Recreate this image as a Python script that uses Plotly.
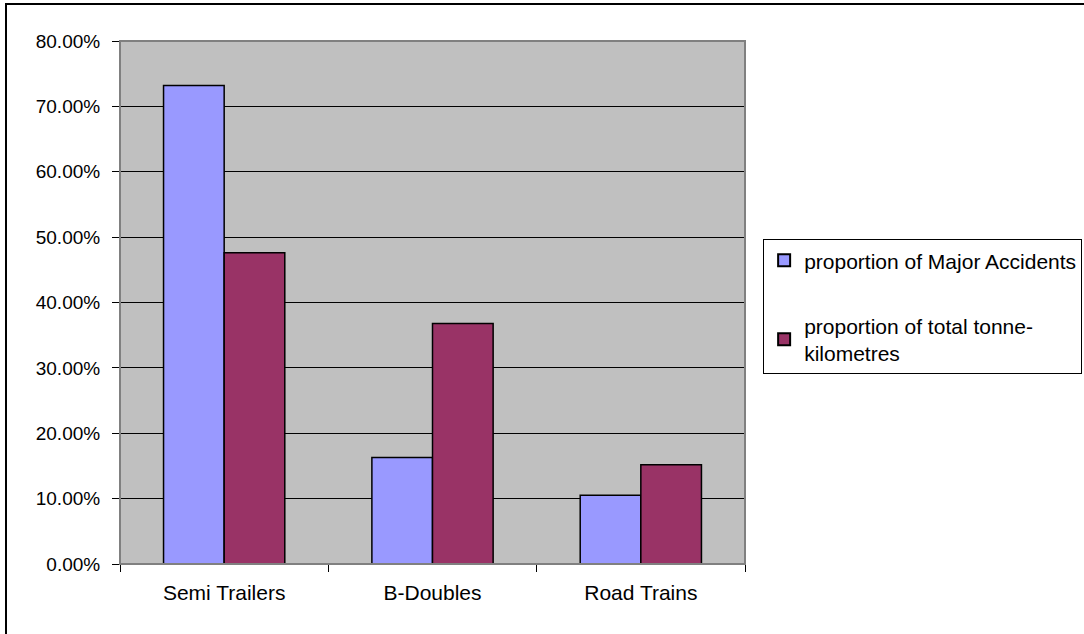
import plotly.graph_objects as go

categories = ["Semi Trailers", "B-Doubles", "Road Trains"]
major_accidents = [0.732, 0.163, 0.105]
tonne_km = [0.476, 0.368, 0.152]
series_names = ["proportion of Major Accidents", "proportion of total tonne-<br>kilometres"]
y_ticks = [0, 0.1, 0.2, 0.3, 0.4, 0.5, 0.6, 0.7, 0.8]

FONT = "Liberation Sans, Arial, sans-serif"

fig = go.Figure()
fig.add_trace(go.Bar(x=categories, y=major_accidents, name=series_names[0],
                     marker=dict(color="#9999FF", line=dict(color="black", width=1.5)),
                     legendgroup="a"))
fig.add_trace(go.Bar(x=categories, y=tonne_km, name=series_names[1],
                     marker=dict(color="#993366", line=dict(color="black", width=1.5)),
                     legendgroup="b"))

fig.update_layout(
    width=1084, height=634,
    margin=dict(l=120, r=339, t=41, b=70, autoexpand=False),
    paper_bgcolor="white", plot_bgcolor="#C0C0C0",
    barmode="group", bargap=0.418, bargroupgap=0,
    font=dict(family=FONT, size=19, color="black"),
    showlegend=True,
    legend=dict(x=1.029, y=0.621, xanchor="left", yanchor="top",
                bordercolor="black", borderwidth=1, bgcolor="white",
                font=dict(family=FONT, size=21, color="black"),
                traceorder="grouped", tracegroupgap=35, itemsizing="constant",
                itemwidth=30),
)
fig.update_xaxes(showgrid=False, showline=True, linecolor="black", linewidth=1,
                 ticks="outside", tickson="boundaries", ticklen=7, tickcolor="black",
                 ticklabelstandoff=10, tickfont=dict(size=21), mirror=False)
fig.update_yaxes(range=[0, 0.8], tickvals=y_ticks, tickformat=".2%",
                 showgrid=True, gridcolor="black", gridwidth=1,
                 showline=True, linecolor="#808080", linewidth=1,
                 ticks="outside", ticklen=7, tickcolor="black", zeroline=False,
                 ticklabelstandoff=8, tickfont=dict(size=19))

# plot area frame (top/right gray)
fig.add_shape(type="rect", xref="paper", yref="paper", x0=0, y0=0, x1=1, y1=1,
              line=dict(color="#808080", width=2), layer="above")
# outer chart border
fig.add_shape(type="rect", xref="paper", yref="paper", x0=-0.1824, y0=-0.2, x1=1.7, y1=1.0707,
              line=dict(color="black", width=2), layer="above")

fig.write_html("out.html")
